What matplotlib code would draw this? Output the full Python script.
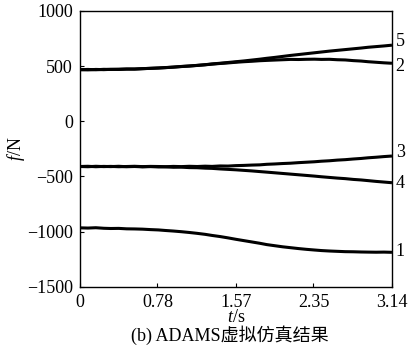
import matplotlib
matplotlib.use('Agg')
import matplotlib.pyplot as plt

# sample times (s)
t = [0.00, 0.08, 0.16, 0.24, 0.31, 0.39, 0.47, 0.55, 0.63, 0.71,
     0.79, 0.86, 0.94, 1.02, 1.10, 1.18, 1.26, 1.33, 1.41, 1.49,
     1.57, 1.65, 1.73, 1.81, 1.88, 1.96, 2.04, 2.12, 2.20, 2.28,
     2.36, 2.43, 2.51, 2.59, 2.67, 2.75, 2.83, 2.90, 2.98, 3.06, 3.14]

# forces (N)
f5 = [468, 466, 470, 468, 471, 470, 473, 474, 477, 480,
      483, 487, 491, 497, 501, 507, 513, 520, 526, 533,
      540, 547, 555, 563, 571, 579, 588, 597, 605, 613,
      621, 628, 636, 643, 650, 657, 664, 671, 677, 683, 690]
f2 = [468, 470, 467, 471, 470, 472, 474, 473, 477, 480,
      483, 486, 491, 496, 501, 506, 512, 518, 524, 529,
      535, 540, 544, 549, 552, 555, 558, 561, 560, 562,
      563, 561, 562, 558, 556, 550, 546, 540, 535, 530, 526]
f3 = [-410, -412, -408, -411, -409, -412, -410, -408, -411, -409,
      -410, -412, -409, -411, -408, -410, -407, -409, -405, -406,
      -402, -400, -397, -395, -390, -387, -383, -380, -375, -371,
      -367, -362, -358, -352, -348, -342, -337, -331, -326, -320, -315]
f4 = [-410, -408, -412, -409, -411, -408, -412, -410, -413, -411,
      -414, -413, -417, -416, -420, -421, -425, -427, -432, -436,
      -440, -445, -450, -456, -461, -467, -473, -479, -485, -491,
      -497, -503, -509, -515, -520, -527, -532, -538, -545, -551, -557]
f1 = [-966, -968, -965, -970, -972, -971, -975, -976, -978, -982,
      -985, -990, -995, -1001, -1008, -1016, -1025, -1035, -1045, -1057,
      -1070, -1082, -1094, -1106, -1118, -1128, -1138, -1146, -1154, -1161,
      -1167, -1172, -1176, -1179, -1182, -1183, -1185, -1186, -1187, -1186, -1188]

curve_labels = ['5', '2', '3', '4', '1']
label_y = [720, 500, -285, -565, -1180]

xticks = [0, 0.78, 1.57, 2.35, 3.14]
xtick_labels = ['0', '0.78', '1.57', '2.35', '3.14']
yticks = [1000, 500, 0, -500, -1000, -1500]

plt.rcParams['font.family'] = ['Liberation Serif', 'Noto Sans CJK SC']
plt.rcParams['mathtext.fontset'] = 'custom'
plt.rcParams['mathtext.rm'] = 'Liberation Serif'
plt.rcParams['mathtext.it'] = 'Liberation Serif:italic'
plt.rcParams['axes.unicode_minus'] = True

fs = 13

fig = plt.figure(figsize=(4.1, 3.54), dpi=100)
ax = fig.add_axes([0.195, 0.19, 0.761, 0.779])

for series in [f5, f2, f3, f4, f1]:
    ax.plot(t, series, color='black', linewidth=2.2, solid_capstyle='butt')

ax.set_xlim(0, 3.14)
ax.set_ylim(-1500, 1000)
ax.set_xticks(xticks)
ax.set_xticklabels(xtick_labels)
ax.set_yticks(yticks)
ax.tick_params(direction='in', length=3, width=0.8, labelsize=fs)
ax.tick_params(axis='x', pad=5)
ax.tick_params(axis='y', pad=5)
for sp in ax.spines.values():
    sp.set_linewidth(1.0)

for lab, yv in zip(curve_labels, label_y):
    ax.text(1.012, yv, lab, transform=ax.get_yaxis_transform(),
            ha='left', va='center', fontsize=fs)

ax.set_ylabel('$f$/N', fontsize=fs, labelpad=0)
ax.set_xlabel('$t$/s', fontsize=fs, labelpad=-1)
fig.text(0.56, 0.052, '(b) ADAMS虚拟仿真结果', ha='center', va='center', fontsize=fs)

fig.savefig('out.png', dpi=100)
